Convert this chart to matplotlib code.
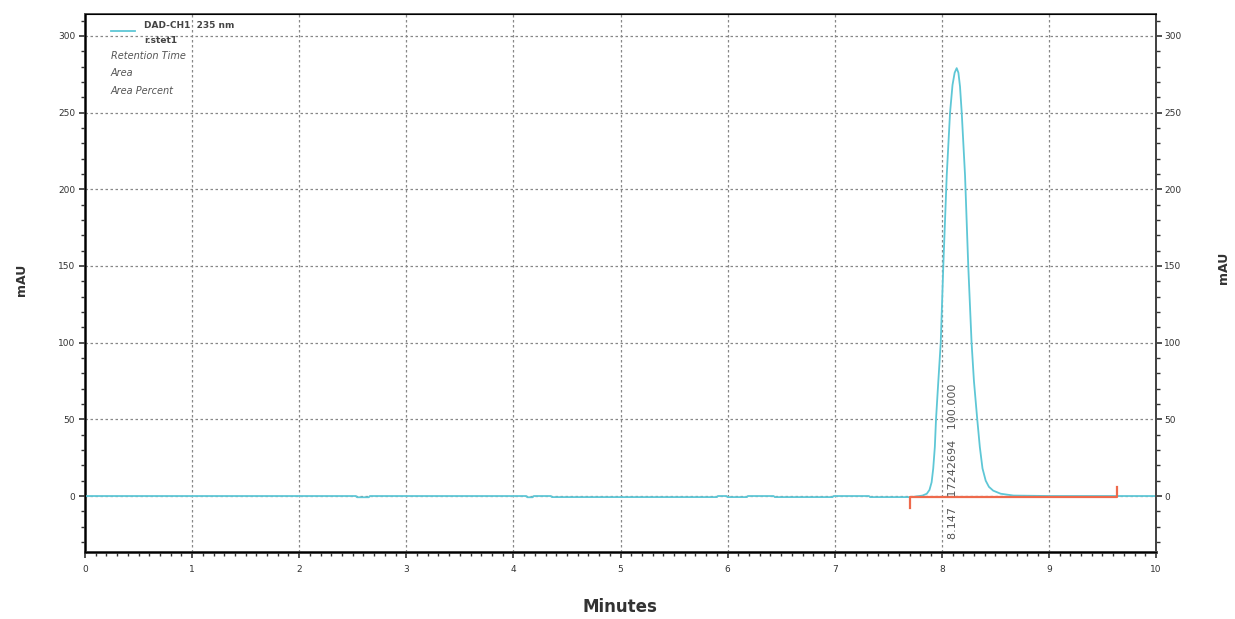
import matplotlib
matplotlib.use("Agg")
import matplotlib.pyplot as plt
from matplotlib.ticker import MultipleLocator

# ---- data ----
time_min = [0.00, 2.53, 2.54, 2.65, 2.66, 4.12, 4.13, 4.18, 4.19, 4.35, 4.36,
            5.90, 5.91, 5.99, 6.00, 6.18, 6.19, 6.43, 6.44, 6.98, 6.99,
            7.32, 7.33, 7.72, 7.82, 7.86, 7.885, 7.905, 7.92, 7.935, 7.946,
            7.965, 7.99, 8.014, 8.046, 8.077, 8.10, 8.12, 8.139, 8.155, 8.17,
            8.186, 8.217, 8.247, 8.278, 8.30, 8.331, 8.355, 8.38, 8.41, 8.44,
            8.48, 8.55, 8.67, 9.00, 10.00]
signal_mau = [0.0, 0.0, -0.8, -0.8, 0.0, 0.0, -0.8, -0.8, 0.0, 0.0, -0.7,
              -0.7, 0.0, 0.0, -0.7, -0.7, 0.0, 0.0, -0.7, -0.7, 0.0,
              0.0, -0.7, -0.7, 0.3, 1.5, 4.0, 9.0, 18.0, 32.0, 50.0,
              72.0, 100.0, 150.0, 209.0, 250.0, 268.0, 276.0, 279.0, 276.0, 267.0,
              250.0, 209.0, 150.0, 100.0, 75.0, 50.0, 32.0, 18.0, 10.0, 6.0,
              3.5, 1.5, 0.3, 0.0, 0.0]

baseline_t = [7.70, 7.70, 9.64, 9.64]
baseline_y = [-8.0, -0.5, -0.5, 6.0]

peak_rt = 8.147
peak_area = 17242694
peak_pct = 100.000

x_ticks = list(range(0, 11))
y_ticks = [0, 50, 100, 150, 200, 250, 300]

trace_color = "#5EC7D6"
base_color = "#EE6A4C"
txt_color = "#555555"

W, H = 1235, 619
fig = plt.figure(figsize=(W / 100, H / 100), dpi=100)
ax = fig.add_axes([85 / W, 1 - 552 / H, (1156 - 85) / W, (552 - 14) / H])

ax.plot(time_min, signal_mau, color=trace_color, lw=1.3, zorder=3)
ax.plot(baseline_t, baseline_y, color=base_color, lw=1.6, zorder=4)

ax.set_xlim(0, 10)
ax.set_ylim(-36.5, 314.3)
ax.set_xticks(x_ticks)
ax.set_yticks(y_ticks)
ax.xaxis.set_minor_locator(MultipleLocator(0.1))
ax.yaxis.set_minor_locator(MultipleLocator(10))
ax.grid(True, which="major", color="#888888", ls=(0, (2, 2)), lw=0.9)

ax.tick_params(which="major", direction="out", length=4, width=1.2,
               labelsize=6.5, colors="#333333", labelcolor="#333333")
ax.tick_params(axis="x", which="major", pad=5)
ax.tick_params(axis="y", which="major", pad=3)
ax.tick_params(which="minor", direction="out", length=3, width=1.0, colors="#333333")

for side in ["left", "bottom"]:
    ax.spines[side].set_linewidth(2.0)
    ax.spines[side].set_color("#333333")
for side in ["top", "right"]:
    ax.spines[side].set_linewidth(1.4)
    ax.spines[side].set_color("#555555")

ax2 = ax.twinx()
ax2.set_ylim(ax.get_ylim())
ax2.set_yticks(y_ticks)
ax2.yaxis.set_minor_locator(MultipleLocator(10))
ax2.tick_params(which="major", direction="out", length=4, width=1.2,
                labelsize=6.5, colors="#333333", labelcolor="#333333", pad=2)
ax2.tick_params(which="minor", direction="out", length=3, width=1.0, colors="#333333")
ax2.spines["right"].set_linewidth(1.4)
ax2.spines["right"].set_color("#444444")

fig.text(22 / W, 1 - 280 / H, "mAU", rotation=90, ha="center", va="center",
         fontsize=9, fontweight="bold", color="#333333")
fig.text(1224 / W, 1 - 268 / H, "mAU", rotation=90, ha="center", va="center",
         fontsize=9, fontweight="bold", color="#333333")
fig.text(620 / W, 1 - 607 / H, "Minutes", ha="center", va="center",
         fontsize=12, fontweight="bold", color="#333333")

# peak annotation
ax.text(peak_rt - 0.045, -28, f"{peak_rt:.3f}   {peak_area}   {peak_pct:.3f}",
        rotation=90, ha="center", va="bottom", fontsize=8, color=txt_color, zorder=5)

# legend block
ax.plot([0.24, 0.47], [303.5, 303.5], color=trace_color, lw=1.3)
ax.text(0.55, 307, "DAD-CH1  235 nm", fontsize=6.5, fontweight="bold", color="#444444",
        va="center", ha="left")
ax.text(0.55, 297, "r.stet1", fontsize=6.5, fontweight="bold", color="#444444",
        va="center", ha="left")
ax.text(0.24, 287, "Retention Time", fontsize=7, style="italic", color="#555555",
        va="center", ha="left")
ax.text(0.24, 276, "Area", fontsize=7, style="italic", color="#555555",
        va="center", ha="left")
ax.text(0.24, 264, "Area Percent", fontsize=7, style="italic", color="#555555",
        va="center", ha="left")

fig.savefig("out.png", dpi=100)
